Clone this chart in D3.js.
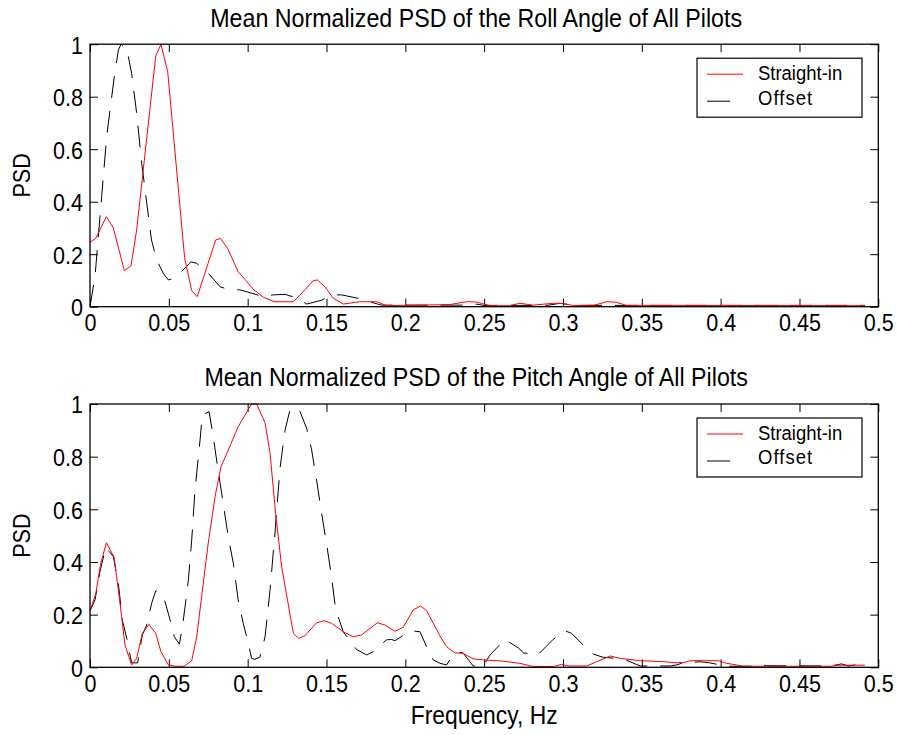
<!DOCTYPE html>
<html>
<head>
<meta charset="utf-8">
<script src="https://cdn.jsdelivr.net/npm/d3@7"></script>
<style>
  body { margin: 0; background: #fff; }
  svg text { font-family: "Liberation Sans", Arial, Helvetica, sans-serif; fill: #000; }
</style>
</head>
<body>
<div id="chart"></div>
<script>
// frequency (Hz), normalized PSD pairs
const rollStraight = [[0,0.245],[0.0036,0.26],[0.0104,0.343],[0.0148,0.30],[0.0218,0.137],[0.026,0.156],[0.0296,0.292],[0.0417,0.955],[0.045,1.0],[0.0493,0.895],[0.06,0.187],[0.0645,0.061],[0.068,0.038],[0.0797,0.254],[0.0827,0.26],[0.0873,0.222],[0.094,0.133],[0.0983,0.104],[0.1036,0.066],[0.11,0.036],[0.117,0.019],[0.129,0.019],[0.1363,0.064],[0.1416,0.099],[0.1441,0.102],[0.149,0.076],[0.1543,0.032],[0.1607,0.01],[0.171,0.019],[0.182,0.019],[0.188,0.004],[0.228,0.008],[0.239,0.019],[0.245,0.018],[0.2537,0.004],[0.266,0.004],[0.2727,0.013],[0.281,0.006],[0.294,0.013],[0.3,0.012],[0.307,0.004],[0.32,0.006],[0.3277,0.019],[0.334,0.017],[0.34,0.005],[0.4915,0.004]];
const rollOffset = [[0,0],[0.0032,0.117],[0.0074,0.42],[0.0106,0.65],[0.0154,0.876],[0.018,0.978],[0.0197,1.0],[0.0233,0.984],[0.0264,0.889],[0.0296,0.737],[0.0328,0.546],[0.036,0.394],[0.039,0.254],[0.0423,0.178],[0.0465,0.127],[0.0497,0.102],[0.053,0.108],[0.057,0.127],[0.064,0.171],[0.0677,0.165],[0.076,0.121],[0.0825,0.076],[0.0856,0.07],[0.095,0.064],[0.0994,0.057],[0.11,0.038],[0.1163,0.045],[0.1237,0.047],[0.132,0.032],[0.1374,0.01],[0.147,0.025],[0.153,0.045],[0.1596,0.045],[0.17,0.032],[0.1734,0.025],[0.185,0.006],[0.24,0.006],[0.245,0.01],[0.25,0.005],[0.29,0.005],[0.298,0.013],[0.304,0.008],[0.31,0.005],[0.4915,0.005]];
const pitchStraight = [[0,0.215],[0.0036,0.278],[0.0068,0.395],[0.0104,0.473],[0.0152,0.42],[0.018,0.294],[0.0222,0.085],[0.0264,0.009],[0.0296,0.034],[0.0332,0.129],[0.0374,0.163],[0.0417,0.129],[0.045,0.059],[0.0497,0.009],[0.054,0.004],[0.0598,0.004],[0.0645,0.025],[0.0677,0.116],[0.0708,0.268],[0.075,0.471],[0.0793,0.648],[0.0831,0.762],[0.0877,0.825],[0.094,0.914],[0.0983,0.958],[0.1025,1.0],[0.1057,1.0],[0.111,0.929],[0.1142,0.813],[0.1178,0.58],[0.1216,0.38],[0.129,0.129],[0.1325,0.11],[0.1363,0.12],[0.1437,0.169],[0.1484,0.177],[0.1533,0.167],[0.1617,0.131],[0.167,0.116],[0.1723,0.123],[0.1822,0.169],[0.187,0.161],[0.1934,0.137],[0.1987,0.152],[0.205,0.218],[0.2097,0.233],[0.2135,0.215],[0.222,0.119],[0.2262,0.078],[0.2315,0.055],[0.2367,0.053],[0.243,0.032],[0.2494,0.028],[0.261,0.024],[0.2727,0.015],[0.281,0.003],[0.294,0.003],[0.299,0.011],[0.3034,0.005],[0.315,0.005],[0.3214,0.021],[0.33,0.043],[0.3363,0.034],[0.349,0.025],[0.3647,0.021],[0.371,0.017],[0.3774,0.019],[0.3805,0.025],[0.3985,0.025],[0.404,0.015],[0.41,0.009],[0.4143,0.004],[0.47,0.004],[0.475,0.008],[0.4915,0.008]];
const pitchOffset = [[0,0.215],[0.0032,0.256],[0.0063,0.363],[0.01,0.456],[0.0148,0.42],[0.018,0.319],[0.0205,0.18],[0.0233,0.11],[0.0264,0.017],[0.0302,0.017],[0.0332,0.123],[0.036,0.161],[0.0391,0.243],[0.0417,0.29],[0.0433,0.29],[0.0476,0.249],[0.0514,0.167],[0.0535,0.116],[0.0567,0.088],[0.0586,0.154],[0.0603,0.23],[0.0624,0.332],[0.0645,0.483],[0.0666,0.673],[0.0698,0.863],[0.0712,0.958],[0.0755,0.971],[0.0782,0.876],[0.0803,0.787],[0.0835,0.661],[0.0877,0.496],[0.0909,0.395],[0.094,0.256],[0.0972,0.167],[0.1004,0.091],[0.1025,0.034],[0.1046,0.03],[0.1078,0.039],[0.111,0.115],[0.1142,0.294],[0.1173,0.509],[0.1205,0.755],[0.1237,0.9],[0.1268,0.977],[0.128,0.987],[0.1332,0.971],[0.1374,0.908],[0.1406,0.825],[0.1437,0.711],[0.1469,0.585],[0.15,0.471],[0.1532,0.344],[0.1553,0.243],[0.1574,0.192],[0.1606,0.135],[0.1637,0.11],[0.169,0.068],[0.1754,0.047],[0.1796,0.059],[0.188,0.104],[0.1912,0.106],[0.1934,0.101],[0.2008,0.129],[0.205,0.138],[0.2093,0.135],[0.2135,0.078],[0.2177,0.028],[0.222,0.015],[0.2262,0.009],[0.2294,0.04],[0.2325,0.055],[0.2363,0.057],[0.243,0.005],[0.2494,0.005],[0.2537,0.047],[0.2632,0.106],[0.272,0.072],[0.275,0.055],[0.284,0.047],[0.2938,0.106],[0.3012,0.139],[0.3054,0.129],[0.3128,0.085],[0.3192,0.05],[0.3255,0.038],[0.3382,0.032],[0.349,0.005],[0.368,0.005],[0.372,0.009],[0.3763,0.017],[0.387,0.021],[0.393,0.017],[0.3995,0.009],[0.405,0.004],[0.42,0.004],[0.425,0.011],[0.429,0.006],[0.47,0.005],[0.4767,0.013],[0.481,0.005],[0.4883,0.011],[0.4915,0.011]];

const xTicks = [0,0.05,0.1,0.15,0.2,0.25,0.3,0.35,0.4,0.45,0.5];
const xTickLabels = ["0","0.05","0.1","0.15","0.2","0.25","0.3","0.35","0.4","0.45","0.5"];
const yTicks = [0,0.2,0.4,0.6,0.8,1];
const yTickLabels = ["0","0.2","0.4","0.6","0.8","1"];
const seriesNames = ["Straight-in","Offset"];
const titles = ["Mean Normalized PSD of the Roll Angle of All Pilots","Mean Normalized PSD of the Pitch Angle of All Pilots"];

const width = 897, height = 735;
const left = 90, right = 878.3;
const dash = "22,13";
const sq = 0.88; // glyphs in the figure are narrow and tall
const tickFont = "24.5px", titleFont = "26.4px", legendFont = "21px", labelFont = "26px";

const svg = d3.select("#chart").append("svg")
    .attr("width", width)
    .attr("height", height)
    .style("background", "#fff");

const x = d3.scaleLinear().domain([0, 0.5]).range([left, right]);

// squeeze a text horizontally around its own origin
function squeeze(sel) {
    sel.each(function () {
        const t = d3.select(this);
        const tx = +(t.attr("x") || 0);
        t.attr("x", tx / sq).attr("transform", (t.attr("transform") || "") + " scale(" + sq + ",1)");
    });
}

function drawPanel(top, bottom, title, straight, offset) {
    const y = d3.scaleLinear().domain([0, 1]).range([bottom, top]);
    const g = svg.append("g");

    // inward ticks on all four sides
    const ax = g.append("g").attr("transform", "translate(0," + bottom + ")")
        .call(d3.axisBottom(x).tickValues(xTicks).tickSize(-8).tickFormat((d, i) => xTickLabels[i]));
    ax.selectAll("text").attr("dy", null).attr("y", 24.5).style("font-size", tickFont).call(squeeze);
    g.append("g").attr("transform", "translate(0," + top + ")")
        .call(d3.axisTop(x).tickValues(xTicks).tickSize(-8).tickFormat(""));
    const ay = g.append("g").attr("transform", "translate(" + left + ",0)")
        .call(d3.axisLeft(y).tickValues(yTicks).tickSize(-8).tickFormat((d, i) => yTickLabels[i]));
    ay.selectAll("text").attr("x", -7).attr("dy", "0.36em").style("font-size", tickFont).call(squeeze);
    g.append("g").attr("transform", "translate(" + right + ",0)")
        .call(d3.axisRight(y).tickValues(yTicks).tickSize(-8).tickFormat(""));
    g.selectAll(".domain").remove();
    g.selectAll(".tick line").attr("stroke", "#000");

    const line = d3.line().x(d => x(d[0])).y(d => y(d[1]));
    g.append("path").datum(offset)
        .attr("d", line).attr("fill", "none")
        .attr("stroke", "#000").attr("stroke-width", 1)
        .attr("stroke-dasharray", dash);
    g.append("path").datum(straight)
        .attr("d", line).attr("fill", "none")
        .attr("stroke", "#ff0000").attr("stroke-width", 1);

    g.append("rect")
        .attr("x", left).attr("y", top)
        .attr("width", right - left).attr("height", bottom - top)
        .attr("fill", "none").attr("stroke", "#000").attr("stroke-width", 1.3);

    g.append("text")
        .attr("x", (left + right) / 2 - 8).attr("y", top - 17.5)
        .attr("text-anchor", "middle")
        .style("font-size", titleFont)
        .text(title).call(squeeze);

    g.append("text")
        .attr("transform", "translate(30," + (top + bottom) / 2 + ") rotate(-90)")
        .attr("text-anchor", "middle")
        .style("font-size", tickFont)
        .text("PSD").call(squeeze);

    // legend
    const lg = g.append("g").attr("transform", "translate(697," + (top + 14) + ")");
    lg.append("rect").attr("width", 165).attr("height", 59)
        .attr("fill", "#fff").attr("stroke", "#000").attr("stroke-width", 1.2);
    lg.append("line").attr("x1", 10).attr("x2", 46).attr("y1", 16).attr("y2", 16)
        .attr("stroke", "#ff0000");
    lg.append("line").attr("x1", 10).attr("x2", 33).attr("y1", 43).attr("y2", 43)
        .attr("stroke", "#000");
    lg.append("text").attr("x", 61).attr("y", 22).style("font-size", legendFont)
        .text(seriesNames[0]).call(squeeze);
    lg.append("text").attr("x", 61).attr("y", 46.5).style("font-size", legendFont)
        .attr("letter-spacing", "1.2px").text(seriesNames[1]).call(squeeze);
}

drawPanel(44.2, 306.7, titles[0], rollStraight, rollOffset);
drawPanel(404, 667.3, titles[1], pitchStraight, pitchOffset);

svg.append("text")
    .attr("x", (left + right) / 2).attr("y", 724)
    .attr("text-anchor", "middle")
    .style("font-size", labelFont)
    .text("Frequency, Hz").call(squeeze);
</script>
</body>
</html>
